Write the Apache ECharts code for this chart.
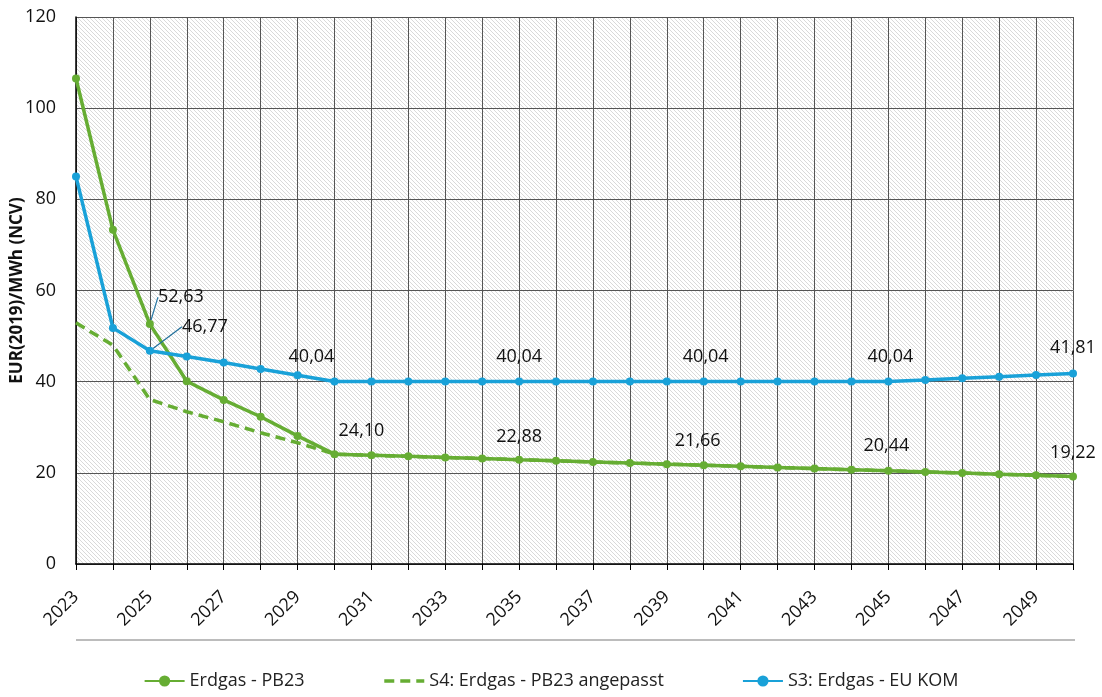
<!DOCTYPE html>
<html>
<head>
<meta charset="utf-8">
<script src="https://cdn.jsdelivr.net/npm/echarts@6/dist/echarts.min.js"></script>
<style>
  html, body { margin: 0; padding: 0; background: #fff; }
  #chart { width: 1102px; height: 697px; }
</style>
</head>
<body>
<div id="chart"></div>
<script>
// Jahre
var years = ['2023', '2024', '2025', '2026', '2027', '2028', '2029', '2030', '2031', '2032',
  '2033', '2034', '2035', '2036', '2037', '2038', '2039', '2040', '2041', '2042',
  '2043', '2044', '2045', '2046', '2047', '2048', '2049', '2050'];

// Erdgas - PB23
var pb23 = [106.5, 73.3, 52.63, 40.1, 36.0, 32.3, 28.1, 24.10, 23.86, 23.62,
  23.37, 23.13, 22.88, 22.64, 22.40, 22.15, 21.91, 21.66, 21.42, 21.18,
  20.93, 20.69, 20.44, 20.20, 19.96, 19.71, 19.47, 19.22];

// S4: Erdgas - PB23 angepasst
var s4 = [52.9, 48.0, 36.08, 33.4, 31.2, 28.8, 26.6, 24.10, 23.86, 23.62,
  23.37, 23.13, 22.88, 22.64, 22.40, 22.15, 21.91, 21.66, 21.42, 21.18,
  20.93, 20.69, 20.44, 20.20, 19.96, 19.71, 19.47, 19.22];

// S3: Erdgas - EU KOM
var s3 = [85.0, 51.8, 46.77, 45.5, 44.2, 42.8, 41.4, 40.04, 40.04, 40.04,
  40.04, 40.04, 40.04, 40.04, 40.04, 40.04, 40.04, 40.04, 40.04, 40.04,
  40.04, 40.04, 40.04, 40.39, 40.75, 41.10, 41.45, 41.81];

// welche Punkte beschriftet werden
var pb23Labels = [2, 7, 12, 17, 22, 27];
var s4Labels = [2];
var s3Labels = [2, 7, 12, 17, 22, 27];

var green = '#66ad33';
var blue = '#19a1d8';
var font = 'Open Sans';

// Schraffur für den Plot-Hintergrund
function hatch() {
  var c = document.createElement('canvas');
  c.width = 4; c.height = 4;
  var ctx = c.getContext('2d');
  ctx.fillStyle = '#ffffff';
  ctx.fillRect(0, 0, 4, 4);
  ctx.strokeStyle = '#d9d9d9';
  ctx.lineWidth = 1;
  for (var k = -4; k <= 4; k += 4) {
    ctx.beginPath();
    ctx.moveTo(k - 1, -1);
    ctx.lineTo(k + 5, 5);
    ctx.stroke();
  }
  return c;
}

function fmt(v) {
  return v.toFixed(2).replace('.', ',');
}

function buildData(values, labelled, guided) {
  return values.map(function (v, i) {
    var item = {value: v};
    if (labelled.indexOf(i) < 0) {
      item.label = {show: false};
    } else if (guided.indexOf(i) >= 0) {
      item.labelLine = {show: true};
    }
    return item;
  });
}

// Verschiebung der Beschriftungen
var shiftPB23 = {2: [31, -9], 7: [27, -5], 12: [0, -5], 17: [-6, -6], 22: [-2, -7], 27: [0, -6]};
var shiftS4 = {2: [0, -8]};
var shiftS3 = {2: [55, -6], 7: [-23, -7], 12: [0, -7], 17: [2, -7], 22: [2, -7], 27: [0, -8]};

function layoutFn(shift) {
  return function (params) {
    var s = shift[params.dataIndex];
    if (!s) return {};
    return {dx: s[0], dy: s[1]};
  };
}

var labelStyle = {
  show: true,
  position: 'top',
  color: '#111',
  fontSize: 18,
  fontFamily: font,
  formatter: function (p) { return fmt(p.value); }
};

var myChart = echarts.init(document.getElementById('chart'));
myChart.setOption({
  backgroundColor: '#fff',
  animation: false,
  textStyle: {fontFamily: font},
  grid: {
    show: true,
    left: 76,
    right: 29,
    top: 17,
    bottom: 133,
    outerBoundsMode: 'none',
    containLabel: false,
    backgroundColor: {image: hatch(), repeat: 'repeat'},
    borderWidth: 0
  },
  legend: {
    bottom: 2,
    left: 'center',
    itemWidth: 40,
    itemHeight: 14,
    itemGap: 78,
    textStyle: {fontSize: 18, color: '#222', fontFamily: font},
    data: [
      {name: 'Erdgas - PB23'},
      {name: 'S4: Erdgas - PB23 angepasst', itemStyle: {opacity: 0}, lineStyle: {width: 3.5}},
      {name: 'S3: Erdgas - EU KOM'}
    ]
  },
  xAxis: {
    type: 'category',
    boundaryGap: false,
    data: years,
    axisLine: {lineStyle: {color: '#000', width: 1.5}},
    axisTick: {show: true, interval: 0, length: 6, lineStyle: {color: '#000'}},
    axisLabel: {
      interval: 1,
      rotate: 45,
      fontSize: 18,
      color: '#111',
      fontFamily: font,
      margin: 30
    },
    splitLine: {show: true, interval: 0, lineStyle: {color: '#555', width: 1}}
  },
  yAxis: {
    type: 'value',
    min: 0,
    max: 120,
    interval: 20,
    name: 'EUR(2019)/MWh (NCV)',
    nameLocation: 'middle',
    nameGap: 50,
    nameMoveOverlap: false,
    nameTextStyle: {fontSize: 17, fontWeight: 'bold', color: '#111', fontFamily: font},
    axisLine: {show: true, lineStyle: {color: '#000', width: 1.5}},
    axisTick: {show: false},
    axisLabel: {fontSize: 18, color: '#111', margin: 20, fontFamily: font},
    splitLine: {lineStyle: {color: '#555', width: 1}}
  },
  graphic: [{
    type: 'line',
    shape: {x1: 76, y1: 640, x2: 1075, y2: 640},
    style: {stroke: '#a6a6a6', lineWidth: 1.5}
  }],
  series: [{
    name: 'S4: Erdgas - PB23 angepasst',
    type: 'line',
    symbol: 'none',
    z: 2,
    lineStyle: {color: green, width: 3.5, type: [10, 6]},
    itemStyle: {color: green},
    label: labelStyle,
    labelLayout: layoutFn(shiftS4),
    data: buildData(s4, s4Labels, [])
  }, {
    name: 'Erdgas - PB23',
    type: 'line',
    symbol: 'circle',
    symbolSize: 8,
    z: 3,
    lineStyle: {color: green, width: 3.5},
    itemStyle: {color: green},
    label: labelStyle,
    labelLine: {show: false, lineStyle: {color: '#2a79a6', width: 1.2}},
    labelLayout: layoutFn(shiftPB23),
    data: buildData(pb23, pb23Labels, [2])
  }, {
    name: 'S3: Erdgas - EU KOM',
    type: 'line',
    symbol: 'circle',
    symbolSize: 8,
    z: 4,
    lineStyle: {color: blue, width: 3.5},
    itemStyle: {color: blue},
    label: labelStyle,
    labelLine: {show: false, lineStyle: {color: '#1f6e9a', width: 1.2}},
    labelLayout: layoutFn(shiftS3),
    data: buildData(s3, s3Labels, [2])
  }]
});
</script>
</body>
</html>
